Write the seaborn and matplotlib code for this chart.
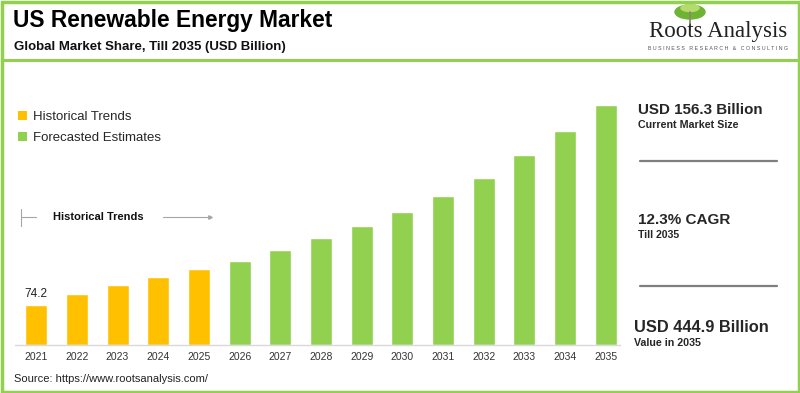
import matplotlib
matplotlib.use("Agg")
import matplotlib.pyplot as plt
from matplotlib.patches import Patch, Rectangle, Ellipse
from matplotlib.lines import Line2D
import pandas as pd
import seaborn as sns

# ── Data ──────────────────────────────────────────────────────────────────────
years = [str(y) for y in range(2021, 2036)]
values = [74.2, 94.6, 111.9, 126.7, 140.4, 156.3, 175.6, 198.5, 220.7,
          246.7, 276.4, 310.4, 351.9, 397.0, 444.9]
phase = ["Historical Trends"] * 5 + ["Forecasted Estimates"] * 10
colors = {"Historical Trends": "#FFC000", "Forecasted Estimates": "#92D050"}

W, H = 800, 393
GREEN = "#92D050"


def fx(px):
    return px / W


def fy(py):
    return 1 - py / H


sns.set_style("white")
plt.rcParams["font.family"] = ["Liberation Sans", "DejaVu Sans"]

fig = plt.figure(figsize=(8, 3.93), dpi=100)
fig.patch.set_facecolor("white")

# ── Bars ──────────────────────────────────────────────────────────────────────
ax = fig.add_axes([fx(15), fy(345), fx(620 - 15), (345 - 86) / H])
df = pd.DataFrame({"year": years, "value": values, "phase": phase})
sns.barplot(data=df, x="year", y="value", hue="phase", palette=colors,
            dodge=False, width=0.54, legend=False, saturation=1, ax=ax)
ax.set_xlim(-0.52, 14.35)
ax.set_ylim(0, 480)
ax.set_xlabel("")
ax.set_ylabel("")
ax.set_yticks([])
ax.tick_params(axis="x", length=0, pad=5, labelsize=7.5, colors="#333333")
for s in ["top", "right", "left"]:
    ax.spines[s].set_visible(False)
ax.spines["bottom"].set_color("#D9D9D9")
ax.spines["bottom"].set_linewidth(1)
ax.patch.set_alpha(0)

ax.text(0, values[0] + 9, f"{values[0]}", ha="center", va="bottom",
        fontsize=8.5, color="#222222")

# ── Legend ────────────────────────────────────────────────────────────────────
handles = [Patch(facecolor=colors[k], edgecolor="none") for k in colors]
fig.legend(handles, list(colors), loc="upper left",
           bbox_to_anchor=(fx(18), fy(111)), frameon=False, fontsize=9.5,
           handlelength=0.7, handleheight=0.7, handletextpad=0.4,
           labelspacing=0.65, borderaxespad=0, borderpad=0)

# historical trends marker
fig.add_artist(Line2D([fx(21), fx(21)], [fy(209), fy(226)], color="#A6A6A6", lw=0.8))
fig.add_artist(Line2D([fx(21), fx(36)], [fy(217), fy(217)], color="#A6A6A6", lw=0.8))
fig.text(fx(53), fy(217), "Historical Trends", fontsize=8, fontweight="bold",
         va="center", ha="left", color="#111111")
fig.add_artist(Line2D([fx(163), fx(210)], [fy(217), fy(217)], color="#A6A6A6", lw=0.8))
fig.add_artist(Line2D([fx(210)], [fy(217)], marker=">", markersize=2.5,
                      color="#A6A6A6", lw=0))

# ── Header ────────────────────────────────────────────────────────────────────
fig.text(fx(13), fy(21), "US Renewable Energy Market", fontsize=16.4,
         fontweight="bold", va="center", ha="left", color="#000000")
fig.text(fx(14), fy(47), "Global Market Share, Till 2035 (USD Billion)",
         fontsize=9.5, fontweight="bold", va="center", ha="left", color="#111111")

# logo
fig.add_artist(Line2D([fx(690), fx(690)], [fy(12), fy(30)], color="#8A8A6A", lw=1.3))
fig.add_artist(Ellipse((fx(690), fy(12)), fx(30), 14 / H, color="#6FB335"))
fig.add_artist(Ellipse((fx(690), fy(8)), fx(18), 7 / H, color="#B5DB6E"))
fig.text(fx(718), fy(32), "Roots Analysis", fontsize=16.5, family="Liberation Serif",
         va="center", ha="center", color="#222222")
fig.text(fx(718), fy(48), "B U S I N E S S   R E S E A R C H   &   C O N S U L T I N G",
         fontsize=3.8, va="center", ha="center", color="#555555")

# ── Right panel ───────────────────────────────────────────────────────────────
fig.text(fx(638), fy(110), "USD 156.3 Billion", fontsize=10.9, fontweight="bold",
         va="center", ha="left")
fig.text(fx(638), fy(125), "Current Market Size", fontsize=7.7, fontweight="bold",
         va="center", ha="left")
fig.add_artist(Line2D([fx(640), fx(777)], [fy(160.5), fy(160.5)], color="#7F7F7F", lw=1.6))
fig.text(fx(638), fy(220), "12.3% CAGR", fontsize=11, fontweight="bold",
         va="center", ha="left")
fig.text(fx(638), fy(235), "Till 2035", fontsize=7.6, fontweight="bold",
         va="center", ha="left")
fig.add_artist(Line2D([fx(640), fx(777)], [fy(286), fy(286)], color="#7F7F7F", lw=1.6))
fig.text(fx(634), fy(327), "USD 444.9 Billion", fontsize=11.8, fontweight="bold",
         va="center", ha="left")
fig.text(fx(634), fy(343), "Value in 2035", fontsize=7.7, fontweight="bold",
         va="center", ha="left")

# ── Source & frame ────────────────────────────────────────────────────────────
fig.text(fx(14), fy(379), "Source: https://www.rootsanalysis.com/", fontsize=8,
         va="center", ha="left", color="#222222")

fig.add_artist(Line2D([fx(3), fx(797)], [fy(60), fy(60)], color=GREEN, lw=2.2))
fig.add_artist(Rectangle((fx(1.5), 1.5 / H), fx(797), (H - 3) / H, fill=False,
                         edgecolor=GREEN, lw=2.5, transform=fig.transFigure))

fig.savefig("out.png", dpi=100)
